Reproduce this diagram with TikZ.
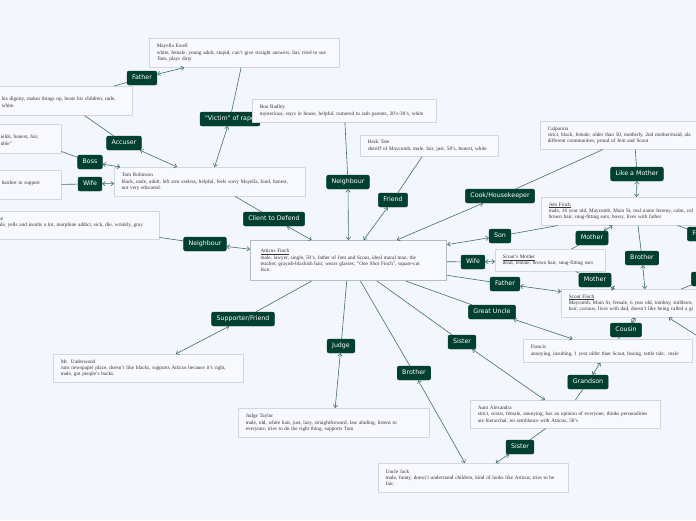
\documentclass[tikz,border=0pt]{standalone}
\usepackage{fontspec}
\setmainfont{Liberation Serif}
\newfontfamily\tagfont{DejaVu Sans}
\usetikzlibrary{arrows.meta}

\definecolor{pagebg}{HTML}{F4F6FD}
\definecolor{cardfill}{HTML}{F8F9FE}
\definecolor{cardline}{HTML}{D3D6E0}
\definecolor{cardtext}{HTML}{333333}
\definecolor{mainline}{HTML}{B9BBC2}
\definecolor{taggreen}{HTML}{01402F}
\definecolor{relline}{HTML}{3E6F69}

\tikzset{
  card/.style={anchor=north west,draw=cardline,fill=cardfill,text=cardtext,line width=0.6pt,
    inner xsep=7.5pt,inner ysep=0pt,align=left,font=\fontsize{5.2}{6.3}\selectfont},
  tag/.style={fill=taggreen,draw=taggreen,text=white,rounded corners=2pt,
    inner xsep=5pt,inner ysep=0pt,minimum height=14pt,text height=4.7pt,text depth=1.3pt,
    font=\tagfont\fontsize{6.3}{7}\selectfont},
  rel/.style={<->,draw=relline,line width=0.6pt}
}

\begin{document}
\begin{tikzpicture}[x=1pt,y=-1pt,>={Straight Barb[length=2.6pt,width=4.4pt]},line cap=round,line join=round]
\useasboundingbox (0,0) rectangle (696,520);
\clip (0,0) rectangle (696,520);
\fill[pagebg] (0,0) rectangle (696,520);

% people
\node[card,text width=175pt,minimum height=29pt] (mayella) at (149,38) {Mayella Ewell\\white, female, young adult, stupid, can't give straight answers, liar, tried to sue\\Tom, plays dirty};
\node[card,text width=123pt,minimum height=29pt] (bob) at (-6,86) {\mbox{}\\his dignity, makes things up, beats his children, rude,\\white.};
\node[card,text width=53pt,minimum height=29pt] (link) at (-7,124) {\mbox{}\\ields, honest, fair,\\uble"};
\node[card,text width=52pt,minimum height=29pt] (helen) at (-6,170) {\mbox{}\\hardest to support\\\mbox{}};
\node[card,text width=153pt,minimum height=28pt] (dubose) at (-9,211) {se\\ale, yells and insults a lot, morphine addict, sick, die, wrinkly, gray\\\mbox{}};
\node[card,text width=176pt,minimum height=29pt] (tom) at (114,167) {Tom Robinson\\black, male, adult, left arm useless, helpful, feels sorry Mayella, kind, honest,\\not very educated.};
\node[card,text width=123pt,minimum height=21pt] (heck) at (360,135) {Heck Tate\\sheriff of Maycomb, male, fair, just, 50's, honest, white};
\node[card,draw=mainline,line width=1.1pt,inner xsep=10pt,text width=176pt,minimum height=40pt] (atticus) at (250,240) {\underline{Atticus Finch}\\male, lawyer, single, 50's, father of Jem and Scout, ideal moral man, the\\teacher, grayish-blackish hair, wears glasses, "One Shot Finch", square-cut\\face.};
\node[card,text width=173pt,minimum height=28pt] (calpurnia) at (540,121) {Calpurnia\\strict, black, female, older than 50, motherly, 2nd mother/maid, ala\\different communities, proud of Jem and Scout};
\node[card,text width=175pt,minimum height=28pt] (jem) at (541,197) {\underline{Jem Finch}\\male, 10 year old, Maycomb, Main St, real name Jeremy, calm, col\\brown hair, snug-fitting ears, bossy, lives with father};
\node[card,text width=95pt,minimum height=22pt] (smother) at (495,249) {\underline{Scout's Mother}\\dead, female, brown hair, snug-fitting ears};
\node[card,text width=155pt,minimum height=28pt] (scout) at (561,289) {\underline{Scout Finch}\\Maycomb, Main St, female, 6 year old, tomboy, stubborn,\\hair, curious, lives with dad, doesn't like being called a gi};
\node[card,text width=154pt,minimum height=23pt] (francis) at (523,339) {Francis\\annoying, insulting, 1 year older than Scout, boring, tattle tale,\ \ male};
\node[card,text width=175pt,minimum height=28pt] (alexandra) at (470,400) {Aunt Alexandra\\strict, sexist, female, annoying, has an opinion of everyone, thinks personalities\\are hierarchal, no semblance with Atticus, 50's};
\node[card,text width=175pt,minimum height=28pt] (underwood) at (53,354) {Mr. Underwood\\runs newspaper place, doesn't like blacks, supports Atticus because it's right,\\male, got people's backs.};
\node[card,text width=176pt,minimum height=29pt] (judge) at (238,408) {Judge Taylor\\male, old, white hair, just, lazy, straightforward, law abiding, listens to\\everyone, tries to do the right thing, supports Tom};
\node[card,text width=175pt,minimum height=29pt] (jack) at (378,463) {Uncle Jack\\male, funny, doesn't understand children, kind of looks like Atticus, tries to be\\fair.};

% relations
\node[tag] (fatherE) at (142,78) {Father};
\node[tag] (victim) at (230,119) {"Victim" of rape};
\node[tag] (accuser) at (124,143) {Accuser};
\node[tag] (boss) at (90,162) {Boss};
\node[tag] (wifeT) at (90,184) {Wife};
\node[tag] (client) at (274,219) {Client to Defend};
\node[tag] (neighD) at (205,244) {Neighbour};
\node[tag] (neighB) at (348,182) {Neighbour};
\node[tag] (friendH) at (393,200) {Friend};
\node[tag] (cook) at (500,196) {Cook/Housekeeper};
\node[tag] (likemother) at (637,174) {Like a Mother};
\node[tag] (son) at (500,236) {Son};
\node[tag] (motherJ) at (592,238) {Mother};
\node[tag] (friendJ) at (702,234) {Friend};
\node[tag] (brotherJ) at (642,258) {Brother};
\node[tag] (friendS) at (706,279) {Friend};
\node[tag] (wifeA) at (473,262) {Wife};
\node[tag] (motherS) at (595,280) {Mother};
\node[tag] (fatherA) at (505,284) {Father};
\node[tag] (greatuncle) at (492,312) {Great Uncle};
\node[tag] (cousin) at (626,330) {Cousin};
\node[tag] (sisterA) at (462,342) {Sister};
\node[tag] (supporter) at (243,319) {Supporter/Friend};
\node[tag] (judgeT) at (341,346) {Judge};
\node[tag] (brotherA) at (414,373) {Brother};
\node[tag] (grandson) at (588,382) {Grandson};
\node[tag] (sisterJ) at (520,447) {Sister};

\node[card,text width=169pt,minimum height=23pt] (boo) at (252,99) {Boo Radley\\mysterious, stays in house, helpful, rumored to stab parents, 20's-30's, white};

\coordinate (dillJ) at (760,250);
\coordinate (dillS) at (760,268);
\coordinate (offS) at (724,353);

\draw[rel] (bob) -- (fatherE) -- (mayella);
\draw[rel] (mayella) -- (victim) -- (tom);
\draw[rel] (bob) -- (accuser) -- (tom);
\draw[rel] (link) -- (boss) -- (tom);
\draw[rel] (helen) -- (wifeT) -- (tom);
\draw[rel] (tom) -- (client) -- (atticus);
\draw[rel] (dubose) -- (neighD) -- (atticus);
\draw[rel] (boo) -- (neighB) -- (atticus);
\draw[rel] (heck) -- (friendH) -- (atticus);
\draw[rel] (calpurnia) -- (cook) -- (atticus);
\draw[rel] (calpurnia) -- (likemother) -- (jem);
\draw[rel] (jem) -- (son) -- (atticus);
\draw[rel] (smother) -- (motherJ) -- (jem);
\draw[rel] (jem) -- (friendJ) -- (dillJ);
\draw[rel] (jem) -- (brotherJ) -- (scout);
\draw[rel] (scout) -- (friendS) -- (dillS);
\draw[rel] (atticus) -- (wifeA) -- (smother);
\draw[rel] (smother) -- (motherS) -- (scout);
\draw[rel] (atticus) -- (fatherA) -- (scout);
\draw[rel] (atticus) -- (greatuncle) -- (francis);
\draw[rel] (francis) -- (cousin) -- (scout);
\draw[rel] (scout) -- (offS);
\draw[rel] (atticus) -- (sisterA) -- (alexandra);
\draw[rel] (atticus) -- (supporter) -- (underwood);
\draw[rel] (atticus) -- (judgeT) -- (judge);
\draw[rel] (atticus) -- (brotherA) -- (jack);
\draw[rel] (alexandra) -- (grandson) -- (francis);
\draw[rel] (alexandra) -- (sisterJ) -- (jack);
\end{tikzpicture}
\end{document}
